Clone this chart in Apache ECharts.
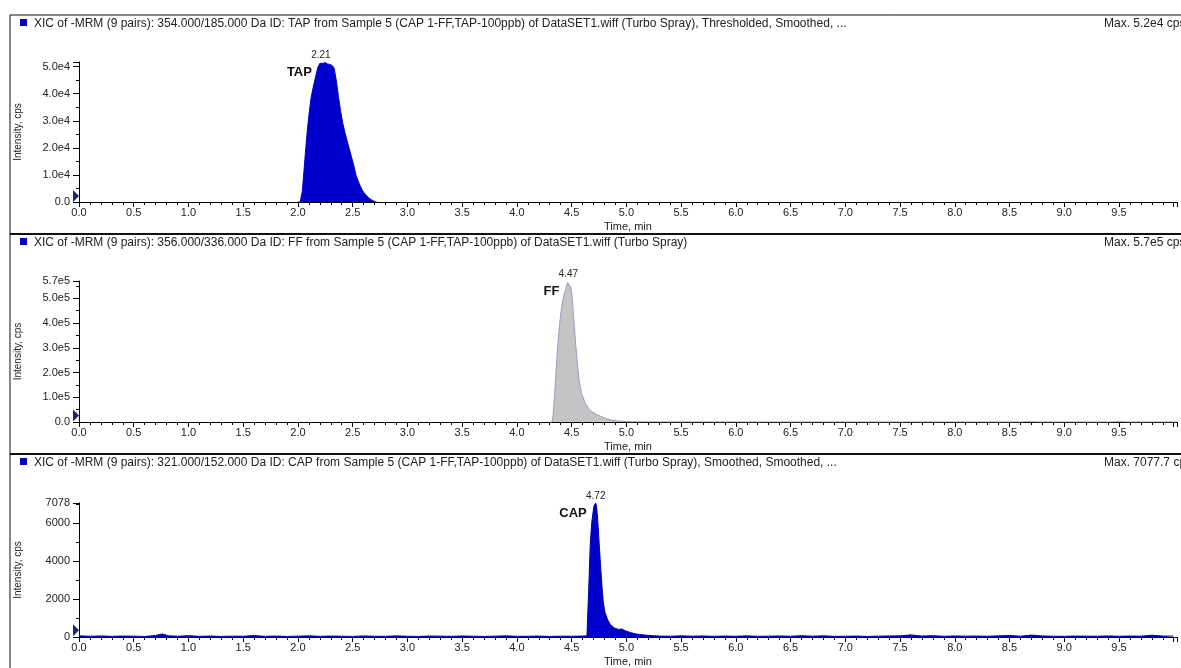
<!DOCTYPE html>
<html>
<head>
<meta charset="utf-8">
<title>XIC of -MRM</title>
<script src="https://cdn.jsdelivr.net/npm/echarts@6/dist/echarts.min.js"></script>
<style>
  html, body { margin: 0; padding: 0; background: #fff; }
  #chart { width: 1181px; height: 668px; }
</style>
</head>
<body>
<div id="chart"></div>
<script>
// panel titles
const titles = [
  'XIC of -MRM (9 pairs): 354.000/185.000 Da ID: TAP from Sample 5 (CAP 1-FF,TAP-100ppb) of DataSET1.wiff (Turbo Spray), Thresholded, Smoothed, ...',
  'XIC of -MRM (9 pairs): 356.000/336.000 Da ID: FF from Sample 5 (CAP 1-FF,TAP-100ppb) of DataSET1.wiff (Turbo Spray)',
  'XIC of -MRM (9 pairs): 321.000/152.000 Da ID: CAP from Sample 5 (CAP 1-FF,TAP-100ppb) of DataSET1.wiff (Turbo Spray), Smoothed, Smoothed, ...'
]
const maxLabels = ['Max. 5.2e4 cps', 'Max. 5.7e5 cps', 'Max. 7077.7 cps']
const compounds = ['TAP', 'FF', 'CAP']
const peakTimes = [2.21, 4.47, 4.72]
const yMax = [51700, 570000, 7078]
const yInterval = [10000, 100000, 2000]

// [time (min), intensity (cps)]
const tapPoints = [
  [2.00, 0], [2.02, 0], [2.04, 4000], [2.06, 14000], [2.08, 24000], [2.10, 32000],
  [2.12, 38500], [2.14, 42500], [2.16, 46000], [2.18, 49500], [2.20, 51200], [2.21, 51700],
  [2.23, 51200], [2.25, 51500], [2.27, 51000], [2.29, 50800], [2.31, 50500], [2.33, 49500],
  [2.35, 45000], [2.37, 39000], [2.39, 33500], [2.41, 29000], [2.43, 25500], [2.45, 22500],
  [2.47, 19500], [2.49, 16500], [2.51, 13500], [2.53, 10000], [2.55, 7800], [2.57, 5800],
  [2.59, 4200], [2.62, 2600], [2.65, 1400], [2.68, 600], [2.71, 100], [2.72, 0]
]
const ffPoints = [
  [4.30, 0], [4.325, 0], [4.335, 50000], [4.345, 116000], [4.36, 220000], [4.375, 319000],
  [4.39, 395000], [4.405, 453000], [4.42, 495000], [4.44, 528000], [4.463, 564000], [4.47, 570000],
  [4.48, 562000], [4.49, 548000], [4.50, 528000], [4.512, 460000], [4.525, 386000], [4.54, 300000],
  [4.555, 224000], [4.57, 165000], [4.59, 116000], [4.625, 76000], [4.655, 55000], [4.685, 42000],
  [4.73, 30000], [4.775, 21000], [4.82, 13000], [4.865, 8000], [4.92, 4000], [5.015, 1000],
  [5.20, 600], [5.60, 300], [6.50, 0], [8.60, 0], [8.68, 1500], [8.76, 0], [9.40, 0],
  [9.50, 1500], [9.60, 0], [10.03, 0]
]
const capPoints = [
  [0.00, 60], [0.10, 40], [0.20, 55], [0.30, 35], [0.40, 50], [0.50, 45], [0.60, 30],
  [0.70, 80], [0.76, 160], [0.82, 60], [0.90, 40], [1.00, 70], [1.10, 35], [1.20, 50],
  [1.30, 30], [1.40, 45], [1.50, 40], [1.60, 75], [1.70, 35], [1.80, 50], [1.90, 30],
  [2.00, 45], [2.10, 60], [2.20, 35], [2.30, 50], [2.40, 40], [2.50, 30], [2.60, 55],
  [2.70, 40], [2.80, 35], [2.90, 60], [3.00, 40], [3.10, 30], [3.20, 50], [3.30, 45],
  [3.40, 35], [3.50, 55], [3.60, 40], [3.70, 30], [3.80, 45], [3.90, 60], [4.00, 35],
  [4.10, 40], [4.20, 50], [4.30, 30], [4.40, 45], [4.50, 40], [4.60, 50], [4.64, 60],
  [4.655, 2350], [4.67, 4830], [4.683, 6000], [4.695, 6550], [4.705, 6950], [4.72, 7078],
  [4.728, 6900], [4.738, 6200], [4.75, 5100], [4.763, 3900], [4.777, 2700], [4.79, 1800],
  [4.805, 1300], [4.83, 900], [4.855, 650], [4.89, 480], [4.93, 400], [4.96, 420],
  [4.99, 330], [5.04, 230], [5.09, 160], [5.14, 120], [5.19, 90], [5.24, 70], [5.30, 50],
  [5.40, 40], [5.50, 60], [5.60, 45], [5.70, 55], [5.80, 35], [5.90, 50], [6.00, 40],
  [6.10, 60], [6.20, 35], [6.30, 45], [6.40, 55], [6.50, 40], [6.60, 70], [6.70, 45],
  [6.80, 60], [6.90, 35], [7.00, 40], [7.10, 50], [7.20, 30], [7.30, 45], [7.40, 55],
  [7.50, 60], [7.60, 110], [7.70, 50], [7.80, 70], [7.90, 40], [8.00, 55], [8.10, 45],
  [8.20, 50], [8.30, 40], [8.40, 60], [8.50, 80], [8.60, 45], [8.70, 100], [8.80, 55],
  [8.90, 40], [9.00, 35], [9.10, 50], [9.20, 45], [9.30, 40], [9.40, 55], [9.50, 40],
  [9.60, 50], [9.70, 45], [9.80, 90], [9.90, 50], [10.00, 45]
]
const seriesPoints = [tapPoints, ffPoints, capPoints]
const thresholdLevels = [2200, 26000, 350]

const fillColors = ['#0000cc', '#c4c4c4', '#0000cc']
const lineColors = ['#0000cc', '#9898cc', '#0000aa']

const gridTops = [62, 281, 503]
const gridHeights = [140, 141, 141]
const separators = [15, 234, 454]
const font = '"Liberation Sans", Arial, sans-serif'

const chart = echarts.init(document.getElementById('chart'))

function yLabel(i) {
  return function (v) {
    if (i === 0) {
      if (v % 10000 !== 0) return ''
      return v === 0 ? '0.0' : v.toExponential(1).replace('e+', 'e')
    }
    if (i === 1) {
      return v === 0 ? '0.0' : v.toExponential(1).replace('e+', 'e')
    }
    return String(Math.round(v))
  }
}

const grids = []
const xAxes = []
const yAxes = []
const series = []
const graphics = []

for (let i = 0; i < 3; i++) {
  grids.push({ left: 79, right: 4, top: gridTops[i], height: gridHeights[i] })
  xAxes.push({
    type: 'value',
    gridIndex: i,
    min: 0,
    max: 10.03,
    interval: 0.5,
    name: 'Time, min',
    nameLocation: 'middle',
    nameGap: 19,
    nameTextStyle: { fontSize: 11, color: '#222', fontFamily: font },
    axisLine: { lineStyle: { color: '#000', width: 1 } },
    axisTick: { length: 5, lineStyle: { color: '#000' } },
    minorTick: { show: true, splitNumber: 5, length: 3, lineStyle: { color: '#000' } },
    splitLine: { show: false },
    axisLabel: {
      margin: 5,
      fontSize: 11,
      color: '#222',
      fontFamily: font,
      formatter: v => (v > 9.9 ? '' : v.toFixed(1))
    }
  })
  yAxes.push({
    type: 'value',
    gridIndex: i,
    min: 0,
    max: yMax[i],
    interval: yInterval[i],
    name: 'Intensity, cps',
    nameLocation: 'middle',
    nameGap: 56,
    nameTextStyle: { fontSize: 10, color: '#222', fontFamily: font },
    axisLine: { show: true, lineStyle: { color: '#000', width: 1 } },
    axisTick: { show: true, length: 6, lineStyle: { color: '#000' } },
    minorTick: { show: true, splitNumber: 2, length: 3, lineStyle: { color: '#000' } },
    splitLine: { show: false },
    axisLabel: {
      margin: 9,
      fontSize: 11,
      color: '#222',
      fontFamily: font,
      formatter: yLabel(i)
    }
  })
  series.push({
    type: 'line',
    xAxisIndex: i,
    yAxisIndex: i,
    data: seriesPoints[i],
    showSymbol: false,
    symbol: 'none',
    lineStyle: { color: lineColors[i], width: 1 },
    areaStyle: { color: fillColors[i], opacity: 1 },
    animation: false,
    z: 1,
    markPoint: {
      symbol: 'circle',
      symbolSize: 0,
      silent: true,
      data: [
        {
          coord: [peakTimes[i], yMax[i]],
          label: {
            show: true,
            position: 'top',
            distance: 2,
            formatter: peakTimes[i].toFixed(2),
            fontSize: 10,
            color: '#222',
            fontFamily: font
          }
        },
        {
          coord: [peakTimes[i], yMax[i]],
          label: {
            show: true,
            position: 'left',
            distance: 9,
            offset: [0, 10],
            formatter: compounds[i],
            fontSize: 13,
            fontWeight: 'bold',
            color: '#111',
            fontFamily: font
          }
        },
        {
          coord: [0, thresholdLevels[i]],
          symbol: 'triangle',
          symbolSize: [12, 6],
          symbolRotate: -90,
          symbolOffset: [-3, 0],
          itemStyle: { color: '#1a2580' },
          label: { show: false }
        }
      ]
    }
  })

  // frame line above each panel
  graphics.push({
    type: 'line',
    shape: { x1: 10, y1: separators[i], x2: 1181, y2: separators[i] },
    style: { stroke: '#111', lineWidth: i === 0 ? 1 : 2 }
  })
  graphics.push({
    type: 'rect',
    shape: { x: 20, y: separators[i] + 4, width: 7, height: 7 },
    style: { fill: '#0000cc' }
  })
  graphics.push({
    type: 'text',
    x: 34,
    y: separators[i] + 9,
    style: { text: titles[i], font: '12px ' + font, fill: '#222', verticalAlign: 'middle' }
  })
  graphics.push({
    type: 'text',
    x: 1104,
    y: separators[i] + 9,
    style: { text: maxLabels[i], font: '12px ' + font, fill: '#222', verticalAlign: 'middle' }
  })
}

graphics.push({
  type: 'line',
  shape: { x1: 10, y1: 15, x2: 10, y2: 668 },
  style: { stroke: '#111', lineWidth: 1 }
})

chart.setOption({
  animation: false,
  backgroundColor: '#fff',
  grid: grids,
  xAxis: xAxes,
  yAxis: yAxes,
  series: series,
  graphic: graphics
})

window.addEventListener('resize', () => chart.resize())
</script>
</body>
</html>
